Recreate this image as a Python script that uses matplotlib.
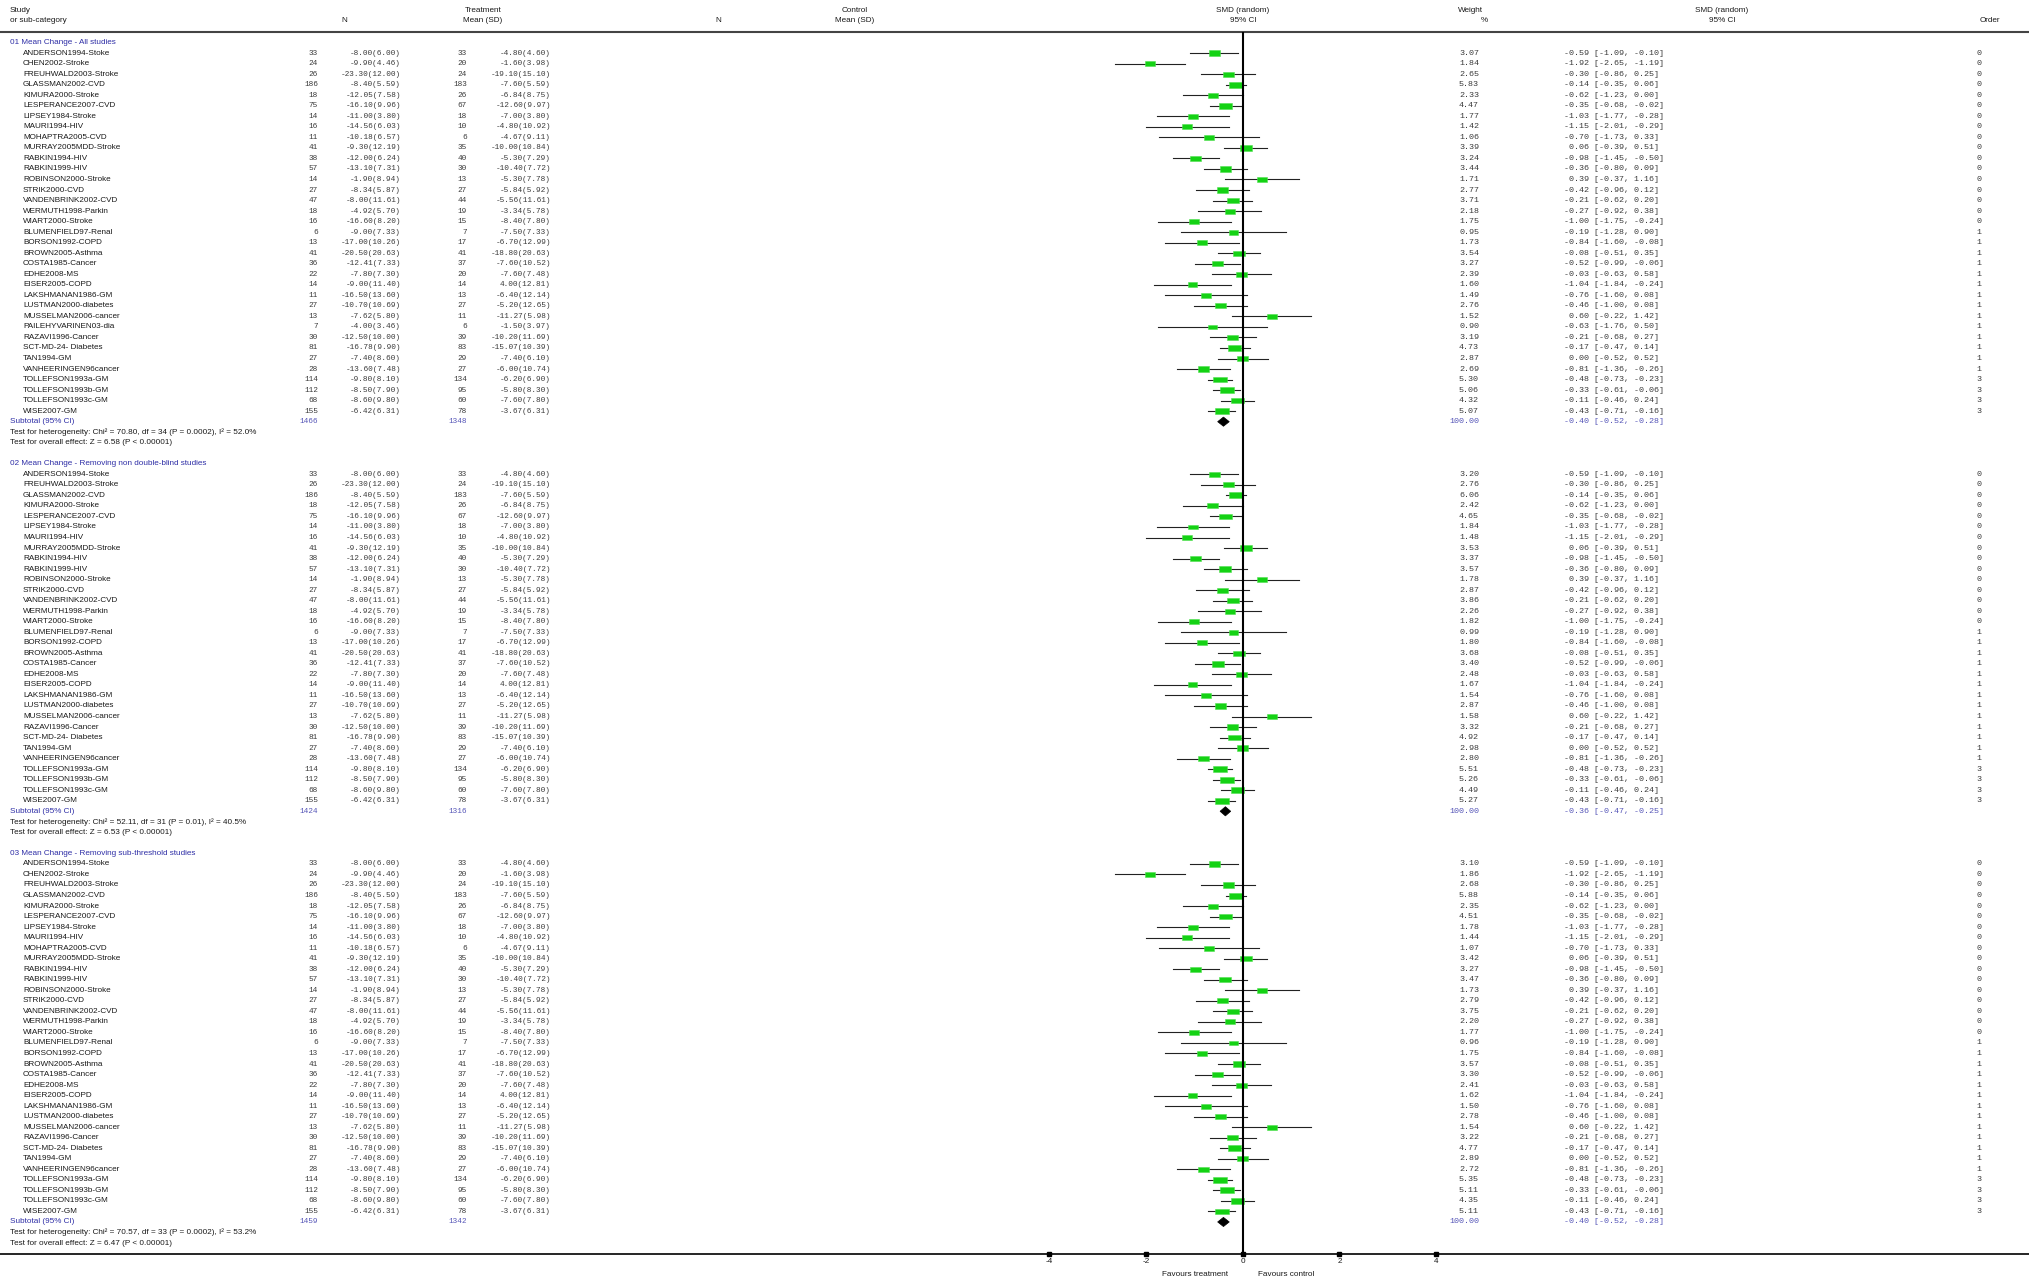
import matplotlib
matplotlib.use('Agg')
import matplotlib.pyplot as plt
from matplotlib.patches import Rectangle, Polygon
from matplotlib.transforms import blended_transform_factory

# ---------------- data ----------------
studies = ["ANDERSON1994-Stoke", "CHEN2002-Stroke", "FREUHWALD2003-Stroke", "GLASSMAN2002-CVD",
           "KIMURA2000-Stroke", "LESPERANCE2007-CVD", "LIPSEY1984-Stroke", "MAURI1994-HIV",
           "MOHAPTRA2005-CVD", "MURRAY2005MDD-Stroke", "RABKIN1994-HIV", "RABKIN1999-HIV",
           "ROBINSON2000-Stroke", "STRIK2000-CVD", "VANDENBRINK2002-CVD", "WERMUTH1998-Parkin",
           "WIART2000-Stroke", "BLUMENFIELD97-Renal", "BORSON1992-COPD", "BROWN2005-Asthma",
           "COSTA1985-Cancer", "EDHE2008-MS", "EISER2005-COPD", "LAKSHMANAN1986-GM",
           "LUSTMAN2000-diabetes", "MUSSELMAN2006-cancer", "PAILEHYVARINEN03-dia", "RAZAVI1996-Cancer",
           "SCT-MD-24- Diabetes", "TAN1994-GM", "VANHEERINGEN96cancer", "TOLLEFSON1993a-GM",
           "TOLLEFSON1993b-GM", "TOLLEFSON1993c-GM", "WISE2007-GM"]
n_t = [33, 24, 26, 186, 18, 75, 14, 16, 11, 41, 38, 57, 14, 27, 47, 18, 16, 6, 13, 41, 36, 22, 14,
       11, 27, 13, 7, 30, 81, 27, 28, 114, 112, 68, 155]
mean_t = [-8.00, -9.90, -23.30, -8.40, -12.05, -16.10, -11.00, -14.56, -10.18, -9.30, -12.00, -13.10,
          -1.90, -8.34, -8.00, -4.92, -16.60, -9.00, -17.00, -20.50, -12.41, -7.80, -9.00, -16.50,
          -10.70, -7.62, -4.00, -12.50, -16.78, -7.40, -13.60, -9.80, -8.50, -8.60, -6.42]
sd_t = [6.00, 4.46, 12.00, 5.59, 7.58, 9.96, 3.80, 6.03, 6.57, 12.19, 6.24, 7.31, 8.94, 5.87, 11.61,
        5.70, 8.20, 7.33, 10.26, 20.63, 7.33, 7.30, 11.40, 13.60, 10.69, 5.80, 3.46, 10.00, 9.90,
        8.60, 7.48, 8.10, 7.90, 9.80, 6.31]
n_c = [33, 20, 24, 183, 26, 67, 18, 10, 6, 35, 40, 30, 13, 27, 44, 19, 15, 7, 17, 41, 37, 20, 14,
       13, 27, 11, 6, 39, 83, 29, 27, 134, 95, 60, 78]
mean_c = [-4.80, -1.60, -19.10, -7.60, -6.84, -12.60, -7.00, -4.80, -4.67, -10.00, -5.30, -10.40,
          -5.30, -5.84, -5.56, -3.34, -8.40, -7.50, -6.70, -18.80, -7.60, -7.60, 4.00, -6.40,
          -5.20, -11.27, -1.50, -10.20, -15.07, -7.40, -6.00, -6.20, -5.80, -7.60, -3.67]
sd_c = [4.60, 3.98, 15.10, 5.59, 8.75, 9.97, 3.80, 10.92, 9.11, 10.84, 7.29, 7.72, 7.78, 5.92, 11.61,
        5.78, 7.80, 7.33, 12.99, 20.63, 10.52, 7.48, 12.81, 12.14, 12.65, 5.98, 3.97, 11.69, 10.39,
        6.10, 10.74, 6.90, 8.30, 7.80, 6.31]
smd = [-0.59, -1.92, -0.30, -0.14, -0.62, -0.35, -1.03, -1.15, -0.70, 0.06, -0.98, -0.36, 0.39,
       -0.42, -0.21, -0.27, -1.00, -0.19, -0.84, -0.08, -0.52, -0.03, -1.04, -0.76, -0.46, 0.60,
       -0.63, -0.21, -0.17, 0.00, -0.81, -0.48, -0.33, -0.11, -0.43]
ci_lo = [-1.09, -2.65, -0.86, -0.35, -1.23, -0.68, -1.77, -2.01, -1.73, -0.39, -1.45, -0.80, -0.37,
         -0.96, -0.62, -0.92, -1.75, -1.28, -1.60, -0.51, -0.99, -0.63, -1.84, -1.60, -1.00, -0.22,
         -1.76, -0.68, -0.47, -0.52, -1.36, -0.73, -0.61, -0.46, -0.71]
ci_hi = [-0.10, -1.19, 0.25, 0.06, 0.00, -0.02, -0.28, -0.29, 0.33, 0.51, -0.50, 0.09, 1.16,
         0.12, 0.20, 0.38, -0.24, 0.90, -0.08, 0.35, -0.06, 0.58, -0.24, 0.08, 0.08, 1.42,
         0.50, 0.27, 0.14, 0.52, -0.26, -0.23, -0.06, 0.24, -0.16]
order = [0, 0, 0, 0, 0, 0, 0, 0, 0, 0, 0, 0, 0, 0, 0, 0, 0, 1, 1, 1, 1, 1, 1, 1, 1, 1, 1, 1, 1, 1,
         1, 3, 3, 3, 3]

weight_s1 = [3.07, 1.84, 2.65, 5.83, 2.33, 4.47, 1.77, 1.42, 1.06, 3.39, 3.24, 3.44, 1.71, 2.77,
             3.71, 2.18, 1.75, 0.95, 1.73, 3.54, 3.27, 2.39, 1.60, 1.49, 2.76, 1.52, 0.90, 3.19,
             4.73, 2.87, 2.69, 5.30, 5.06, 4.32, 5.07]
excluded_s2 = ["CHEN2002-Stroke", "MOHAPTRA2005-CVD", "PAILEHYVARINEN03-dia"]
weight_s2 = [3.20, 2.76, 6.06, 2.42, 4.65, 1.84, 1.48, 3.53, 3.37, 3.57, 1.78, 2.87, 3.86, 2.26,
             1.82, 0.99, 1.80, 3.68, 3.40, 2.48, 1.67, 1.54, 2.87, 1.58, 3.32, 4.92, 2.98, 2.80,
             5.51, 5.26, 4.49, 5.27]
excluded_s3 = ["PAILEHYVARINEN03-dia"]
weight_s3 = [3.10, 1.86, 2.68, 5.88, 2.35, 4.51, 1.78, 1.44, 1.07, 3.42, 3.27, 3.47, 1.73, 2.79,
             3.75, 2.20, 1.77, 0.96, 1.75, 3.57, 3.30, 2.41, 1.62, 1.50, 2.78, 1.54, 3.22, 4.77,
             2.89, 2.72, 5.35, 5.11, 4.35, 5.11]

section_titles = ["01 Mean Change - All studies",
                  "02 Mean Change - Removing non double-blind studies",
                  "03 Mean Change - Removing sub-threshold studies"]
sub_n_t = [1466, 1424, 1459]
sub_n_c = [1348, 1316, 1342]
sub_smd = [-0.40, -0.36, -0.40]
sub_lo = [-0.52, -0.47, -0.52]
sub_hi = [-0.28, -0.25, -0.28]
het_chi2 = [70.80, 52.11, 70.57]
het_df = [34, 31, 33]
het_p = ["0.0002", "0.01", "0.0002"]
het_i2 = [52.0, 40.5, 53.2]
z_val = [6.58, 6.53, 6.47]
x_ticks = [-4, -2, 0, 2, 4]

# ---------------- layout ----------------
W, H = 2029, 1279
PX = 48.35          # pixels per SMD unit
X0 = 1242.8         # pixel position of SMD = 0
Y0, RH = 42.6, 10.53

def ypos(k):
    return Y0 + k * RH

SANS = 'Liberation Sans'
MONO = 'Liberation Mono'
FS = 5.9
FSM_L = 5.6
FSM_R = 6.0
BLUE = '#2e2ea6'
BLUE2 = '#5656b8'
TXT = '#1a1a1a'
NUM = '#3a3a3a'

# column anchors (pixels)
X_NT, X_MT, X_NC, X_MC = 318, 401, 467, 551

fig = plt.figure(figsize=(W / 100, H / 100), dpi=100)
ax = fig.add_axes([0, 0, 1, 1])
ax.set_xlim(-X0 / PX, (W - X0) / PX)
ax.set_ylim(H, 0)
ax.axis('off')
tr = blended_transform_factory(ax.transAxes, ax.transData)

def txt(xpx, y, s, ha='left', family=SANS, size=FS, color=TXT):
    ax.text(xpx / W, y, s, transform=tr, ha=ha, va='center', fontsize=size,
            family=family, color=color)

# header
yh1, yh2 = 10.5, 21.0
txt(10, yh1, "Study")
txt(10, yh2, "or sub-category")
txt(344, yh2, "N", ha='center')
txt(483, yh1, "Treatment", ha='center')
txt(483, yh2, "Mean (SD)", ha='center')
txt(718, yh2, "N", ha='center')
txt(855, yh1, "Control", ha='center')
txt(855, yh2, "Mean (SD)", ha='center')
txt(X0, yh1, "SMD (random)", ha='center')
txt(X0, yh2, "95% CI", ha='center')
txt(1470, yh1, "Weight", ha='center')
txt(1484, yh2, "%", ha='center')
txt(1722, yh1, "SMD (random)", ha='center')
txt(1722, yh2, "95% CI", ha='center')
txt(1990, yh2, "Order", ha='center')
ax.plot(ax.get_xlim(), [ypos(-1)] * 2, color='#444444', lw=1.5, solid_capstyle='butt')

section_members = [
    [i for i in range(len(studies))],
    [i for i, s in enumerate(studies) if s not in excluded_s2],
    [i for i, s in enumerate(studies) if s not in excluded_s3],
]
section_weights = [weight_s1, weight_s2, weight_s3]

k = 0
for si in range(3):
    txt(10, ypos(k), section_titles[si], color=BLUE)
    k += 1
    for idx, w in zip(section_members[si], section_weights[si]):
        y = ypos(k)
        txt(23, y, studies[idx])
        txt(X_NT, y, f"{n_t[idx]}", ha='right', family=MONO, size=FSM_L, color=NUM)
        txt(X_MT, y, f"{mean_t[idx]:.2f}({sd_t[idx]:.2f})", ha='right', family=MONO, size=FSM_L, color=NUM)
        txt(X_NC, y, f"{n_c[idx]}", ha='right', family=MONO, size=FSM_L, color=NUM)
        txt(X_MC, y, f"{mean_c[idx]:.2f}({sd_c[idx]:.2f})", ha='right', family=MONO, size=FSM_L, color=NUM)
        txt(1479, y, f"{w:.2f}", ha='right', family=MONO, size=FSM_R, color=NUM)
        txt(1564, y, f"{smd[idx]:5.2f} [{ci_lo[idx]:.2f}, {ci_hi[idx]:.2f}]", family=MONO,
            size=FSM_R, color=NUM)
        txt(1979, y, f"{order[idx]}", ha='center', family=MONO, size=FSM_R, color=NUM)
        # forest marks
        ax.plot([ci_lo[idx], ci_hi[idx]], [y, y], color='#222222', lw=0.8, zorder=2)
        bw = (8.0 + 1.1 * w) / PX
        bh = 4.5 + 0.25 * w
        ax.add_patch(Rectangle((smd[idx] - bw / 2, y - bh / 2), bw, bh,
                               facecolor='#14d214', edgecolor='#50e050', lw=0.4, zorder=3))
        k += 1
    # subtotal
    y = ypos(k)
    txt(10, y, "Subtotal (95% CI)", color=BLUE)
    txt(X_NT, y, f"{sub_n_t[si]}", ha='right', family=MONO, size=FSM_L, color=BLUE2)
    txt(X_NC, y, f"{sub_n_c[si]}", ha='right', family=MONO, size=FSM_L, color=BLUE2)
    txt(1479, y, "100.00", ha='right', family=MONO, size=FSM_R, color=BLUE2)
    txt(1564, y, f"{sub_smd[si]:5.2f} [{sub_lo[si]:.2f}, {sub_hi[si]:.2f}]", family=MONO,
        size=FSM_R, color=BLUE2)
    ax.add_patch(Polygon([(sub_lo[si], y), (sub_smd[si], y - 4.6), (sub_hi[si], y),
                          (sub_smd[si], y + 4.6)], closed=True, facecolor='black',
                         edgecolor='black', lw=0.5, zorder=4))
    k += 1
    txt(10, ypos(k), f"Test for heterogeneity: Chi² = {het_chi2[si]:.2f}, df = {het_df[si]} "
                     f"(P = {het_p[si]}), I² = {het_i2[si]:.1f}%")
    k += 1
    txt(10, ypos(k), f"Test for overall effect: Z = {z_val[si]:.2f} (P < 0.00001)")
    k += 2

# axis
y_axis = ypos(k - 1)
ax.plot([0, 0], [ypos(-1), y_axis], color='black', lw=1.5, zorder=5, solid_capstyle='butt')
ax.plot(ax.get_xlim(), [y_axis, y_axis], color='black', lw=1.2, zorder=5)
ax.plot(x_ticks, [y_axis] * len(x_ticks), 's', color='black', ms=2.3, zorder=6)
for t in x_ticks:
    ax.text(t, y_axis + 8.0, f"{t}", ha='center', va='center', fontsize=FS, family=SANS,
            color=TXT, rotation=0)
txt(1195, y_axis + 20.5, "Favours treatment", ha='center')
txt(1286, y_axis + 20.5, "Favours control", ha='center')

fig.savefig('out.png', dpi=100)
